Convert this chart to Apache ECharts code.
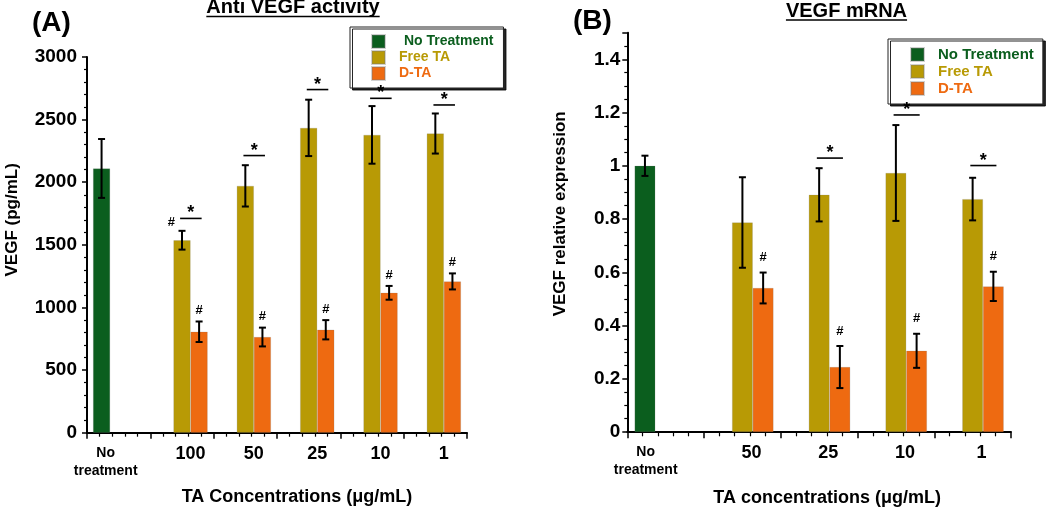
<!DOCTYPE html>
<html><head><meta charset="utf-8">
<script src="https://cdn.jsdelivr.net/npm/echarts@6/dist/echarts.min.js"></script>
<style>html,body{margin:0;padding:0;background:#fff;}#c{width:1050px;height:512px;}</style>
</head><body><div id="c"></div>
<script>
// ---------- DATA ----------
const seriesNames = ['No Treatment', 'Free TA', 'D-TA'];

// Panel A: Anti VEGF activity (pg/mL)
const catsA = ['No treatment', '100', '50', '25', '10', '1'];
const ntA = [2110, null, null, null, null, null];
const ntErrA = [235, null, null, null, null, null];
const freeA = [null, 1537, 1971, 2434, 2378, 2389];
const freeErrA = [null, 75, 165, 225, 230, 160];
const dtaA = [null, 806, 764, 822, 1117, 1208];
const dtaErrA = [null, 82, 75, 77, 55, 64];
const starA = [null, 1711, 2213, 2740, 2670, 2617];      // height of "*" bracket
const hashDtaA = [false, true, true, true, true, true];
const hashFreeA = [false, true, false, false, false, false];
const yTicksA = {min: 0, max: 3000, interval: 500};

// Panel B: VEGF mRNA relative expression
const catsB = ['No treatment', '50', '25', '10', '1'];
const ntB = [1.0, null, null, null, null];
const ntErrB = [0.038, null, null, null, null];
const freeB = [null, 0.787, 0.891, 0.973, 0.875];
const freeErrB = [null, 0.17, 0.10, 0.18, 0.08];
const dtaB = [null, 0.541, 0.244, 0.305, 0.547];
const dtaErrB = [null, 0.058, 0.079, 0.064, 0.055];
const starB = [null, null, 1.029, 1.191, 1.001];
const hashDtaB = [false, true, true, true, true];
const hashFreeB = [false, false, false, false, false];
const yTicksB = {min: 0, max: 1.5, interval: 0.2};

// ---------- STYLE ----------
const FONT = '"Liberation Sans", Arial, Helvetica, sans-serif';
const colors = ['#0b5e1e', '#b89a05', '#ee6a11'];
const BAR_FRAC = 0.27;

const chart = echarts.init(document.getElementById('c'), null, {renderer: 'canvas'});

function measure(text, font) {
  const cv = document.createElement('canvas').getContext('2d');
  cv.font = font;
  return cv.measureText(text).width;
}

function errItems(vals, errs, slot) {
  const out = [];
  vals.forEach((v, i) => { if (v != null && errs[i] != null) out.push([i, v, errs[i], slot]); });
  return out;
}
function errRender(params, api) {
  const ci = api.value(0), v = api.value(1), e = api.value(2), slot = api.value(3);
  const bw = api.size([1, 0])[0];
  const off = (slot - 1) * bw * BAR_FRAC;
  const t = api.coord([ci, v + e]), b = api.coord([ci, v - e]);
  const x = t[0] + off, cap = 3.5;
  const st = {stroke: '#000', lineWidth: 2};
  return {type: 'group', children: [
    {type: 'line', shape: {x1: x, y1: t[1], x2: x, y2: b[1]}, style: st},
    {type: 'line', shape: {x1: x - cap, y1: t[1], x2: x + cap, y2: t[1]}, style: st},
    {type: 'line', shape: {x1: x - cap, y1: b[1], x2: x + cap, y2: b[1]}, style: st}
  ]};
}
function annItems(star, hashD, hashF, free, freeErr, dta, dtaErr) {
  const out = [];
  star.forEach((s, i) => { if (s != null) out.push([i, s, 0]); });
  hashD.forEach((h, i) => { if (h) out.push([i, dta[i] + dtaErr[i], 1]); });
  hashF.forEach((h, i) => { if (h) out.push([i, free[i] + freeErr[i], 2]); });
  return out;
}
function annRender(hashOffset) {
  return function (params, api) {
    const ci = api.value(0), v = api.value(1), kind = api.value(2);
    const bw = api.size([1, 0])[0];
    const p = api.coord([ci, v]);
    if (kind === 0) {
      const x1 = p[0] - 0.03 * bw, x2 = p[0] + 0.31 * bw;
      return {type: 'group', children: [
        {type: 'line', shape: {x1: x1, y1: p[1], x2: x2, y2: p[1]}, style: {stroke: '#000', lineWidth: 1.6}},
        {type: 'text', x: (x1 + x2) / 2, y: p[1] + 4, style: {text: '*', font: 'bold 18px ' + FONT, fill: '#000', align: 'center', verticalAlign: 'bottom'}}
      ]};
    } else if (kind === 1) {
      return {type: 'text', x: p[0] + bw * BAR_FRAC, y: p[1] - hashOffset, style: {text: '#', font: 'bold 13px ' + FONT, fill: '#000', align: 'center', verticalAlign: 'middle'}};
    } else {
      return {type: 'text', x: p[0] - bw * BAR_FRAC / 2 - 2, y: p[1] - 8, style: {text: '#', font: 'bold 13px ' + FONT, fill: '#000', align: 'center', verticalAlign: 'middle'}};
    }
  };
}

function catLabel(shiftNT, shiftNum) {
  return {
    interval: 0, margin: 11, color: '#000',
    formatter: function (v) {
      if (v === 'No treatment') return '{nt|No}\n{nt|treatment}';
      return '{num|' + v + '}';
    },
    rich: {
      nt: {fontFamily: FONT, fontWeight: 'bold', fontSize: 14, lineHeight: 18, color: '#000', padding: [0, shiftNT, 0, 0]},
      num: {fontFamily: FONT, fontWeight: 'bold', fontSize: 18, lineHeight: 20, color: '#000', padding: [0, 0, 0, shiftNum]}
    }
  };
}

const gridA = {left: 87, top: 57, width: 380, height: 375.7};
const gridB = {left: 627.3, top: 32.7, width: 383.7, height: 399.6};

function legend(left, top, fs, gap, pad, ntPad) {
  return {
    orient: 'vertical', left: left, top: top, padding: pad,
    itemWidth: 13, itemHeight: 13, itemGap: gap, icon: 'rect',
    backgroundColor: '#fff', borderColor: '#222', borderWidth: 1,
    shadowColor: 'rgba(0,0,0,0.85)', shadowBlur: 0, shadowOffsetX: 2.5, shadowOffsetY: 2,
    selectedMode: false,
    textStyle: {fontFamily: FONT, fontWeight: 'bold', fontSize: fs, lineHeight: 13},
    data: seriesNames.map((n, i) => ({name: n, textStyle: {color: colors[i], padding: [0, 0, 0, i === 0 ? ntPad : 9]}}))
  };
}

function yAxis(grid, t, split, nm, gap, padL, marg) {
  return {
    type: 'value', gridIndex: grid, min: t.min, max: t.max, interval: t.interval,
    name: nm, nameLocation: 'middle', nameGap: gap,
    nameTextStyle: {fontFamily: FONT, fontWeight: 'bold', fontSize: 17, color: '#000', padding: [0, 0, 0, padL]},
    axisLine: {show: true, lineStyle: {color: '#000', width: 2}},
    axisTick: {show: true, length: 5, lineStyle: {color: '#000', width: 1.5}},
    minorTick: {show: true, splitNumber: split, length: 3, lineStyle: {color: '#000', width: 1.2}},
    splitLine: {show: false}, minorSplitLine: {show: false},
    axisLabel: {margin: marg, fontFamily: FONT, fontWeight: 'bold', fontSize: 19, color: '#000',
      formatter: v => (Math.abs(v - t.max) < 1e-9 && Math.abs((t.max / t.interval) - Math.round(t.max / t.interval)) > 1e-6) ? '' : String(+v.toFixed(2))}
  };
}
function tickAxis(grid, n) {
  return {
    type: 'value', gridIndex: grid, min: 0, max: n, interval: 1, position: 'bottom',
    axisLine: {show: false}, axisLabel: {show: false}, splitLine: {show: false},
    axisTick: {show: true, length: 6, lineStyle: {color: '#000', width: 1.5}},
    minorTick: {show: true, splitNumber: 5, length: 4, lineStyle: {color: '#000', width: 1.2}}
  };
}
function catAxis(grid, cats, nm, gap, padL, shNT, shNum) {
  return {
    type: 'category', gridIndex: grid, data: cats, boundaryGap: true,
    name: nm, nameLocation: 'middle', nameGap: gap,
    nameTextStyle: {fontFamily: FONT, fontWeight: 'bold', fontSize: 18, color: '#000', padding: [0, 0, 0, padL]},
    axisLine: {show: true, lineStyle: {color: '#000', width: 2}},
    axisTick: {show: false},
    axisLabel: catLabel(shNT, shNum)
  };
}
function bars(xi, yi, nt, free, dta) {
  return [nt, free, dta].map((d, i) => ({
    name: seriesNames[i], type: 'bar', xAxisIndex: xi, yAxisIndex: yi, data: d,
    barWidth: (BAR_FRAC * 100) + '%', barGap: '0%',
    itemStyle: {color: colors[i], borderColor: 'rgba(120,120,120,0.35)', borderWidth: 0.6},
    z: 2
  }));
}

const titleFont = 'bold 20px ' + FONT;
const titleA = 'Anti VEGF activity', titleB = 'VEGF mRNA';
const wA = measure(titleA, titleFont), wB = measure(titleB, titleFont);

const option = {
  animation: false,
  backgroundColor: '#fff',
  grid: [
    Object.assign({}, gridA), Object.assign({}, gridA),
    Object.assign({}, gridB), Object.assign({}, gridB)
  ],
  legend: [legend(350, 27, 14, 1, [7, 10, 7, 21], 14), legend(888, 39, 15, 2, [8, 9, 8, 22], 9)],
  xAxis: [
    catAxis(0, catsA, 'TA Concentrations (\u03bcg/mL)', 55, 40, 26, 17),
    tickAxis(1, catsA.length),
    catAxis(2, catsB, 'TA concentrations (\u03bcg/mL)', 57, 16, 40, 18),
    tickAxis(3, catsB.length)
  ],
  yAxis: [
    yAxis(0, yTicksA, 5, 'VEGF (pg/mL)', 66, 50, 10),
    {type: 'value', gridIndex: 1, show: false, min: 0, max: 1},
    yAxis(2, yTicksB, 4, 'VEGF relative expression', 58, 37, 7),
    {type: 'value', gridIndex: 3, show: false, min: 0, max: 1}
  ],
  series: [].concat(
    bars(0, 0, ntA, freeA, dtaA),
    bars(2, 2, ntB, freeB, dtaB),
    [
      {type: 'custom', xAxisIndex: 0, yAxisIndex: 0, z: 5, clip: false, renderItem: errRender,
        encode: {x: 0, y: 1},
        data: [].concat(errItems(ntA, ntErrA, 0), errItems(freeA, freeErrA, 1), errItems(dtaA, dtaErrA, 2))},
      {type: 'custom', xAxisIndex: 0, yAxisIndex: 0, z: 6, clip: false, renderItem: annRender(11),
        encode: {x: 0, y: 1},
        data: annItems(starA, hashDtaA, hashFreeA, freeA, freeErrA, dtaA, dtaErrA)},
      {type: 'custom', xAxisIndex: 2, yAxisIndex: 2, z: 5, clip: false, renderItem: errRender,
        encode: {x: 0, y: 1},
        data: [].concat(errItems(ntB, ntErrB, 0), errItems(freeB, freeErrB, 1), errItems(dtaB, dtaErrB, 2))},
      {type: 'custom', xAxisIndex: 2, yAxisIndex: 2, z: 6, clip: false, renderItem: annRender(15),
        encode: {x: 0, y: 1},
        data: annItems(starB, hashDtaB, hashFreeB, freeB, freeErrB, dtaB, dtaErrB)}
    ]
  ),
  graphic: [
    {type: 'text', left: 32, top: 9, style: {text: '(A)', font: 'bold 28px ' + FONT, fill: '#000'}},
    {type: 'text', left: 573, top: 7, style: {text: '(B)', font: 'bold 28px ' + FONT, fill: '#000'}},
    {type: 'text', x: 293, y: 7, style: {text: titleA, font: titleFont, fill: '#000', align: 'center', verticalAlign: 'middle'}},
    {type: 'line', shape: {x1: 293 - wA / 2, y1: 16.5, x2: 293 + wA / 2, y2: 16.5}, style: {stroke: '#000', lineWidth: 1.5}},
    {type: 'text', x: 846.5, y: 11, style: {text: titleB, font: titleFont, fill: '#000', align: 'center', verticalAlign: 'middle'}},
    {type: 'line', shape: {x1: 846.5 - wB / 2, y1: 20, x2: 846.5 + wB / 2, y2: 20}, style: {stroke: '#000', lineWidth: 1.5}}
  ]
};
chart.setOption(option);
</script>
</body></html>
